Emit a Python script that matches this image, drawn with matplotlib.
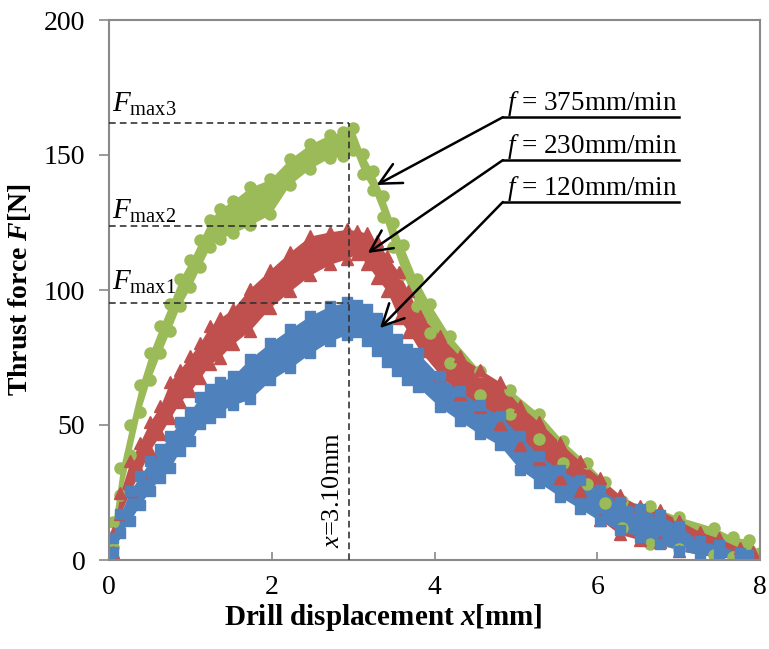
import matplotlib
matplotlib.use('Agg')
import matplotlib.pyplot as plt

plt.rcParams.update({
    'font.family': 'Liberation Serif',
    'mathtext.fontset': 'custom',
    'mathtext.rm': 'Liberation Serif',
    'mathtext.it': 'Liberation Serif:italic',
    'mathtext.bf': 'Liberation Serif:bold',
    'mathtext.bfit': 'Liberation Serif:italic:bold',
})

# thrust force bands: lower / upper edge of the point cloud
# f = 120 mm/min (blue squares)
x120 = [0.0, 0.05, 0.14, 0.26, 0.38, 0.50, 0.63, 0.75, 0.87, 1.00, 1.12, 1.24, 1.36, 1.52,
        1.73, 1.98, 2.22, 2.47, 2.71, 2.92, 3.05, 3.17, 3.29, 3.42, 3.54, 3.66, 3.80, 4.07,
        4.31, 4.56, 4.80, 5.05, 5.29, 5.54, 5.79, 6.03, 6.28, 6.52, 6.77, 7.01, 7.26, 7.50,
        7.75, 7.85]
lo120 = [0, 3, 10, 14.5, 20.5, 25.5, 30.5, 34, 40.5, 44, 50.5, 52.5, 55, 57.5, 59.5, 66.5,
         71, 76.5, 81, 83.5, 84.5, 81, 77.5, 73.5, 70, 66.5, 64, 56.5, 51.5, 46.5, 42.5,
         33.5, 28.5, 23.5, 19, 14.5, 11, 8.5, 6, 3.5, 2, 1.5, 0.5, 0.5]
hi120 = [2, 8, 17, 25.5, 31, 36.5, 41, 46, 51, 55, 60.5, 63.5, 66, 68, 74.5, 80.5, 85.5,
         90.5, 94, 95.5, 94.5, 93, 89.5, 85.5, 82, 78, 76.5, 68, 62.5, 57.5, 53.5, 46, 38.5,
         33.5, 29.5, 26, 21.5, 19, 16.5, 12.5, 7, 5.5, 2.5, 2]

# f = 230 mm/min (red triangles)
x230 = [0.0, 0.05, 0.14, 0.26, 0.38, 0.50, 0.63, 0.75, 0.87, 1.00, 1.12, 1.24, 1.36, 1.52,
        1.73, 1.98, 2.22, 2.47, 2.71, 2.92, 3.05, 3.17, 3.29, 3.42, 3.56, 3.68, 3.82, 4.07,
        4.31, 4.56, 4.80, 5.05, 5.29, 5.54, 5.79, 6.03, 6.28, 6.52, 6.77, 7.01, 7.26, 7.50,
        7.75, 7.92]
lo230 = [0, 3, 17, 25.5, 32.5, 40.5, 46.5, 52.5, 58.5, 62.5, 67.5, 72.5, 75, 80, 85, 93.5,
         99.5, 105.5, 109.5, 111.5, 113.5, 109.5, 104.5, 99.5, 89.5, 84.5, 77.5, 68.5, 61.5,
         56.5, 50.5, 42.5, 37.5, 30.5, 25.5, 15, 9.5, 7.5, 6.5, 3.5, 2, 1, 0.5, 0.5]
hi230 = [2, 10, 25, 36.5, 43.5, 51, 57, 66, 70.5, 75.5, 80.5, 86.5, 89.5, 93, 100.5, 107.5,
         114, 120, 121.5, 122.5, 122, 121, 118, 112.5, 106.5, 99.5, 90.5, 83, 75.5, 70.5,
         66, 57, 51, 43.5, 36.5, 30.5, 24, 20, 18.5, 14.5, 10.5, 8, 4.5, 3]

# f = 375 mm/min (green circles)
x375 = [0.0, 0.05, 0.14, 0.26, 0.38, 0.50, 0.63, 0.75, 0.87, 1.00, 1.12, 1.24, 1.36, 1.52,
        1.73, 1.98, 2.22, 2.47, 2.71, 2.87, 3.00, 3.12, 3.24, 3.37, 3.49, 3.61, 3.78, 3.94,
        4.19, 4.56, 4.93, 5.29, 5.58, 5.87, 6.10, 6.31, 6.65, 7.00, 7.44, 7.67, 7.87, 8.00]
lo375 = [0, 5, 24, 39, 55, 66.5, 76.5, 85, 94, 101, 108.5, 116, 119, 121, 124, 128, 139,
         145, 149, 149.5, 152, 143, 137, 127, 116, 106, 94, 84, 73, 61, 54, 45, 36, 28,
         21, 12, 6, 4, 2, 1, 0.5, 0.5]
hi375 = [3, 14, 34, 50, 65, 76.5, 86.5, 95, 104, 111, 118.5, 126, 130, 133, 138, 141, 148.5,
         154, 157.5, 158.5, 160, 150.5, 144, 135, 125, 116.5, 104, 95, 83, 70, 63, 54, 44,
         36, 29, 22, 20, 16, 12, 8.5, 7.5, 2.5]

# peak markers
x_peak = 2.95
fmax = [95.2, 123.7, 161.8]
fmax_labels = [r'$F_{\mathrm{max1}}$', r'$F_{\mathrm{max2}}$', r'$F_{\mathrm{max3}}$']
fmax_label_y = [100, 126.3, 166]

# feed-rate callouts: text, underline height, arrow tip
feed_labels = [r'$f$ = 375mm/min', r'$f$ = 230mm/min', r'$f$ = 120mm/min']
line_y = [164, 148.1, 132.6]
tips = [(3.29, 138.9), (3.18, 113.7), (3.33, 85.9)]

fig = plt.figure(figsize=(7.69, 6.49), dpi=100)
ax = fig.add_axes([109 / 769, 89 / 649, 651 / 769, 540 / 649])

series = [
    (x375, lo375, hi375, '#9BBB59', 'o', 8),
    (x230, lo230, hi230, '#C0504D', '^', 9),
    (x120, lo120, hi120, '#4F81BD', 's', 7.5),
]
for xs, lo, hi, c, m, ms in series:
    ax.fill_between(xs, lo, hi, color=c, lw=0)
    ax.plot(xs, lo, ls='none', marker=m, ms=ms, color=c, mec=c)
    ax.plot(xs, hi, ls='none', marker=m, ms=ms, color=c, mec=c)

# dashed guide lines
dash = (0, (4, 2.5))
for fm in fmax:
    ax.plot([0, x_peak], [fm, fm], ls=dash, color='#333333', lw=1.2, zorder=5)
ax.plot([x_peak, x_peak], [0, fmax[2]], ls=dash, color='#333333', lw=1.2, zorder=5)
for lab, yy in zip(fmax_labels, fmax_label_y):
    ax.text(0.04, yy, lab, fontsize=21, va='baseline', ha='left', zorder=6)
ax.text(2.75, 26, r'$x$=3.10mm', rotation=90, fontsize=19, ha='center', va='center')

# callouts
for lab, yy, tip in zip(feed_labels, line_y, tips):
    ax.plot([4.84, 7.01], [yy, yy], color='black', lw=1.8, zorder=6)
    ax.annotate('', xy=tip, xytext=(4.84, yy),
                arrowprops=dict(arrowstyle='->,head_length=0.7,head_width=0.35',
                                lw=1.8, color='black', mutation_scale=22,
                                shrinkA=0, shrinkB=0), zorder=6)
    ax.text(4.89, yy + 2.5, lab, fontsize=19.5, ha='left', va='baseline', zorder=6)

ax.set_xlim(0, 8)
ax.set_ylim(0, 200)
ax.set_xticks([0, 2, 4, 6, 8])
ax.set_yticks([0, 50, 100, 150, 200])
for s in ax.spines.values():
    s.set_color('#898989')
    s.set_linewidth(1.5)
ax.tick_params(axis='x', direction='in', length=6, width=1.2, color='#898989',
               labelsize=20, pad=11)
ax.tick_params(axis='y', direction='out', length=7, width=1.2, color='#898989',
               labelsize=20, pad=10)
ax.set_xlabel(r'Drill displacement $\mathbfit{x}$[mm]', fontsize=21, fontweight='bold')
ax.set_ylabel(r'Thrust force $\mathbfit{F}$[N]', fontsize=20, fontweight='bold')
ax.xaxis.set_label_coords(0.421, -0.078)
ax.yaxis.set_label_coords(-0.117, 0.5)

fig.savefig('out.png', dpi=100)
